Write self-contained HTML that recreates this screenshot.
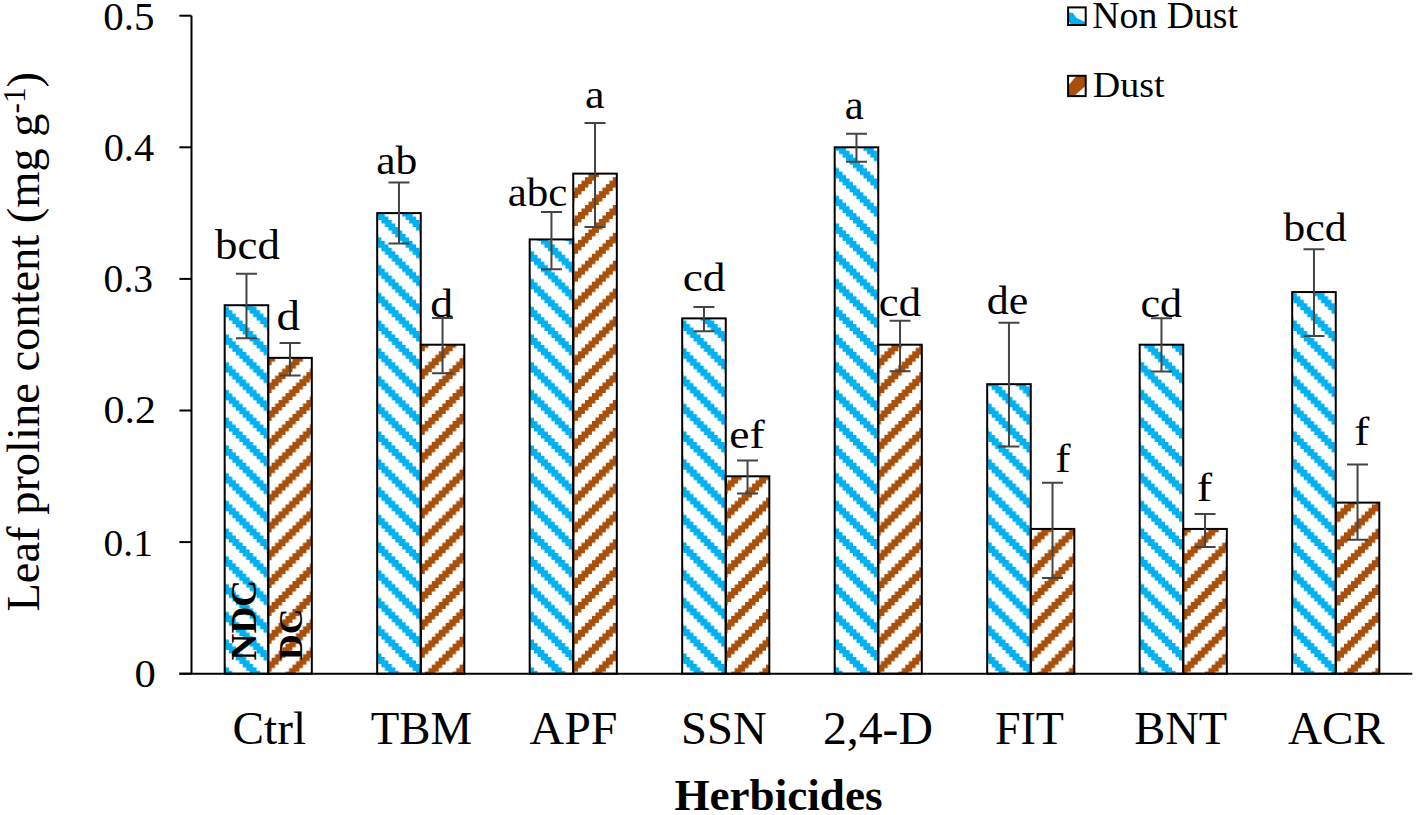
<!DOCTYPE html>
<html><head><meta charset="utf-8"><style>
html,body{margin:0;padding:0;background:#fff;}
svg{display:block;}
text{font-family:"Liberation Serif",serif;fill:#000;}
</style></head><body>
<svg width="1416" height="815" viewBox="0 0 1416 815">
<defs>
<pattern id="pb" patternUnits="userSpaceOnUse" x="0" y="5.077" width="27.740" height="27.740"><path d="M0.000,0.000h3.467v3.467h-3.467zM3.467,0.000h3.467v3.467h-3.467zM6.935,0.000h3.467v3.467h-3.467zM3.467,3.467h3.467v3.467h-3.467zM6.935,3.467h3.467v3.467h-3.467zM10.402,3.467h3.467v3.467h-3.467zM6.935,6.935h3.467v3.467h-3.467zM10.402,6.935h3.467v3.467h-3.467zM13.870,6.935h3.467v3.467h-3.467zM10.402,10.402h3.467v3.467h-3.467zM13.870,10.402h3.467v3.467h-3.467zM17.337,10.402h3.467v3.467h-3.467zM13.870,13.870h3.467v3.467h-3.467zM17.337,13.870h3.467v3.467h-3.467zM20.805,13.870h3.467v3.467h-3.467zM17.337,17.337h3.467v3.467h-3.467zM20.805,17.337h3.467v3.467h-3.467zM24.272,17.337h3.467v3.467h-3.467zM20.805,20.805h3.467v3.467h-3.467zM24.272,20.805h3.467v3.467h-3.467zM0.000,20.805h3.467v3.467h-3.467zM24.272,24.272h3.467v3.467h-3.467zM0.000,24.272h3.467v3.467h-3.467zM3.467,24.272h3.467v3.467h-3.467z" fill="#00B0F0"/></pattern>
<pattern id="pr" patternUnits="userSpaceOnUse" x="0" y="10.056" width="27.855" height="27.855"><path d="M0.000,0.000h3.482v3.482h-3.482zM3.482,0.000h3.482v3.482h-3.482zM6.964,0.000h3.482v3.482h-3.482zM24.373,3.482h3.482v3.482h-3.482zM0.000,3.482h3.482v3.482h-3.482zM3.482,3.482h3.482v3.482h-3.482zM20.891,6.964h3.482v3.482h-3.482zM24.373,6.964h3.482v3.482h-3.482zM0.000,6.964h3.482v3.482h-3.482zM17.409,10.446h3.482v3.482h-3.482zM20.891,10.446h3.482v3.482h-3.482zM24.373,10.446h3.482v3.482h-3.482zM13.928,13.928h3.482v3.482h-3.482zM17.409,13.928h3.482v3.482h-3.482zM20.891,13.928h3.482v3.482h-3.482zM10.446,17.409h3.482v3.482h-3.482zM13.928,17.409h3.482v3.482h-3.482zM17.409,17.409h3.482v3.482h-3.482zM6.964,20.891h3.482v3.482h-3.482zM10.446,20.891h3.482v3.482h-3.482zM13.928,20.891h3.482v3.482h-3.482zM3.482,24.373h3.482v3.482h-3.482zM6.964,24.373h3.482v3.482h-3.482zM10.446,24.373h3.482v3.482h-3.482z" fill="#A8500A"/></pattern>
<clipPath id="c1"><rect x="1068.1" y="7.4" width="17.6" height="17.6"/></clipPath>
<clipPath id="c2"><rect x="1068.1" y="75.8" width="17.6" height="20.3"/></clipPath>
</defs>
<rect width="1416" height="815" fill="#fff"/>

<rect x="224.68" y="305.22" width="43.57" height="368.48" fill="url(#pb)" stroke="#000" stroke-width="2"/>
<rect x="268.25" y="357.86" width="43.57" height="315.84" fill="url(#pr)" stroke="#000" stroke-width="2"/>
<rect x="377.18" y="213.10" width="43.57" height="460.60" fill="url(#pb)" stroke="#000" stroke-width="2"/>
<rect x="420.75" y="344.70" width="43.57" height="329.00" fill="url(#pr)" stroke="#000" stroke-width="2"/>
<rect x="529.68" y="239.42" width="43.57" height="434.28" fill="url(#pb)" stroke="#000" stroke-width="2"/>
<rect x="573.25" y="173.62" width="43.57" height="500.08" fill="url(#pr)" stroke="#000" stroke-width="2"/>
<rect x="682.18" y="318.38" width="43.57" height="355.32" fill="url(#pb)" stroke="#000" stroke-width="2"/>
<rect x="725.75" y="476.30" width="43.57" height="197.40" fill="url(#pr)" stroke="#000" stroke-width="2"/>
<rect x="834.68" y="147.30" width="43.57" height="526.40" fill="url(#pb)" stroke="#000" stroke-width="2"/>
<rect x="878.25" y="344.70" width="43.57" height="329.00" fill="url(#pr)" stroke="#000" stroke-width="2"/>
<rect x="987.18" y="384.18" width="43.57" height="289.52" fill="url(#pb)" stroke="#000" stroke-width="2"/>
<rect x="1030.75" y="528.94" width="43.57" height="144.76" fill="url(#pr)" stroke="#000" stroke-width="2"/>
<rect x="1139.68" y="344.70" width="43.57" height="329.00" fill="url(#pb)" stroke="#000" stroke-width="2"/>
<rect x="1183.25" y="528.94" width="43.57" height="144.76" fill="url(#pr)" stroke="#000" stroke-width="2"/>
<rect x="1292.18" y="292.06" width="43.57" height="381.64" fill="url(#pb)" stroke="#000" stroke-width="2"/>
<rect x="1335.75" y="502.62" width="43.57" height="171.08" fill="url(#pr)" stroke="#000" stroke-width="2"/>
<text transform="translate(256.04,660.44) rotate(-90) scale(1.0389,1)" font-size="35.76" font-weight="bold">NDC</text>
<text transform="translate(302.26,660.01) rotate(-90) scale(1.0405,1)" font-size="34.24" font-weight="bold">DC</text>
<path d="M246.47,273.80V338.30M235.97,273.80H256.97M235.97,338.30H256.97" stroke="#444" stroke-width="2" fill="none"/>
<path d="M290.04,343.10V375.50M279.54,343.10H300.54M279.54,375.50H300.54" stroke="#444" stroke-width="2" fill="none"/>
<path d="M398.97,182.60V243.50M388.47,182.60H409.47M388.47,243.50H409.47" stroke="#444" stroke-width="2" fill="none"/>
<path d="M442.54,318.00V373.20M432.04,318.00H453.04M432.04,373.20H453.04" stroke="#444" stroke-width="2" fill="none"/>
<path d="M551.46,211.90V269.20M540.96,211.90H561.96M540.96,269.20H561.96" stroke="#444" stroke-width="2" fill="none"/>
<path d="M595.03,123.10V227.10M584.53,123.10H605.53M584.53,227.10H605.53" stroke="#444" stroke-width="2" fill="none"/>
<path d="M703.96,307.00V331.20M693.46,307.00H714.46M693.46,331.20H714.46" stroke="#444" stroke-width="2" fill="none"/>
<path d="M747.53,460.40V493.50M737.03,460.40H758.03M737.03,493.50H758.03" stroke="#444" stroke-width="2" fill="none"/>
<path d="M856.46,133.80V161.80M845.96,133.80H866.96M845.96,161.80H866.96" stroke="#444" stroke-width="2" fill="none"/>
<path d="M900.03,320.80V371.30M889.53,320.80H910.53M889.53,371.30H910.53" stroke="#444" stroke-width="2" fill="none"/>
<path d="M1008.96,322.70V446.50M998.46,322.70H1019.46M998.46,446.50H1019.46" stroke="#444" stroke-width="2" fill="none"/>
<path d="M1052.53,482.80V578.00M1042.03,482.80H1063.03M1042.03,578.00H1063.03" stroke="#444" stroke-width="2" fill="none"/>
<path d="M1161.47,318.30V371.50M1150.97,318.30H1171.97M1150.97,371.50H1171.97" stroke="#444" stroke-width="2" fill="none"/>
<path d="M1205.04,513.90V547.00M1194.54,513.90H1215.54M1194.54,547.00H1215.54" stroke="#444" stroke-width="2" fill="none"/>
<path d="M1313.97,249.30V336.10M1303.47,249.30H1324.47M1303.47,336.10H1324.47" stroke="#444" stroke-width="2" fill="none"/>
<path d="M1357.54,464.60V539.70M1347.04,464.60H1368.04M1347.04,539.70H1368.04" stroke="#444" stroke-width="2" fill="none"/>
<path d="M191.5,15.7V673.7M179.4,673.7H1412.3" stroke="#000" stroke-width="2" fill="none"/>
<path d="M179.4,673.70H191.5" stroke="#000" stroke-width="2"/>
<path d="M179.4,542.10H191.5" stroke="#000" stroke-width="2"/>
<path d="M179.4,410.50H191.5" stroke="#000" stroke-width="2"/>
<path d="M179.4,278.90H191.5" stroke="#000" stroke-width="2"/>
<path d="M179.4,147.30H191.5" stroke="#000" stroke-width="2"/>
<path d="M179.4,15.70H191.5" stroke="#000" stroke-width="2"/>
<text transform="translate(103.26,29.90) scale(1.0235,1)" font-size="40.00">0.5</text>
<text transform="translate(103.69,160.90) scale(1.0047,1)" font-size="40.15">0.4</text>
<text transform="translate(103.62,291.80) scale(0.9930,1)" font-size="39.85">0.3</text>
<text transform="translate(103.53,423.09) scale(1.0379,1)" font-size="40.30">0.2</text>
<text transform="translate(103.62,556.02) scale(1.0130,1)" font-size="38.97">0.1</text>
<text transform="translate(134.50,687.01) scale(1.0816,1)" font-size="39.40">0</text>
<text transform="translate(215.10,258.79) scale(1.0895,1)" font-size="41.14">bcd</text>
<text transform="translate(276.42,330.09) scale(1.1397,1)" font-size="41.14">d</text>
<text transform="translate(376.26,174.20) scale(1.0775,1)" font-size="40.43">ab</text>
<text transform="translate(430.17,316.60) scale(1.1444,1)" font-size="40.00">d</text>
<text transform="translate(507.68,205.89) scale(1.0477,1)" font-size="41.00">abc</text>
<text transform="translate(584.94,107.89) scale(1.0746,1)" font-size="41.04">a</text>
<text transform="translate(682.68,290.50) scale(1.1376,1)" font-size="40.00">cd</text>
<text transform="translate(729.17,447.80) scale(1.1419,1)" font-size="40.00">ef</text>
<text transform="translate(844.79,118.88) scale(1.0175,1)" font-size="42.08">a</text>
<text transform="translate(878.81,316.00) scale(1.1180,1)" font-size="40.00">cd</text>
<text transform="translate(986.74,314.10) scale(1.1045,1)" font-size="39.86">de</text>
<text transform="translate(1055.22,472.40) scale(1.1500,1)" font-size="40.00">f</text>
<text transform="translate(1140.53,316.80) scale(1.1039,1)" font-size="40.00">cd</text>
<text transform="translate(1196.69,501.30) scale(1.1500,1)" font-size="40.14">f</text>
<text transform="translate(1283.30,240.60) scale(1.0997,1)" font-size="40.00">bcd</text>
<text transform="translate(1354.14,445.39) scale(1.1500,1)" font-size="39.43">f</text>
<text transform="translate(232.51,743.70) scale(1.0275,1)" font-size="46.00">Ctrl</text>
<text transform="translate(370.66,743.70) scale(1.0172,1)" font-size="46.00">TBM</text>
<text transform="translate(529.52,743.70) scale(1.0420,1)" font-size="46.00">APF</text>
<text transform="translate(681.03,743.70) scale(1.0145,1)" font-size="46.00">SSN</text>
<text transform="translate(822.99,743.70) scale(1.0370,1)" font-size="46.00">2,4-D</text>
<text transform="translate(994.92,743.70) scale(1.0015,1)" font-size="46.00">FIT</text>
<text transform="translate(1134.31,743.70) scale(1.0089,1)" font-size="46.00">BNT</text>
<text transform="translate(1288.03,743.70) scale(1.0223,1)" font-size="46.00">ACR</text>
<text transform="translate(674.40,809.86) scale(1.0262,1)" font-size="44.00" font-weight="bold">Herbicides</text>
<text transform="translate(1092.27,28.33) scale(1.0169,1)" font-size="37.12">Non Dust</text>
<text transform="translate(1092.86,96.73) scale(1.0364,1)" font-size="36.67">Dust</text>
<text transform="translate(38.86,611.59) rotate(-90) scale(1.0023,1)" font-size="46.38">Leaf proline content (mg g<tspan font-size="31.08" dy="-13.45">-1</tspan><tspan dy="13.45">)</tspan></text>
<g clip-path="url(#c1)"><rect x="1060" y="0" width="40" height="40" fill="#fff"/><path d="M1068,12.3 L1073,13 L1076.5,18 L1086,22.5 L1086,26 L1073,26 L1068,21.5Z" fill="#00B0F0"/></g>
<g clip-path="url(#c2)"><rect x="1060" y="70" width="40" height="40" fill="#fff"/><path d="M1068,86 L1075,77.5 L1077,75.8 L1086,75.8 L1086,85.6 L1074,96.2 L1068,96.2Z" fill="#A8500A"/></g>
<rect x="1068.1" y="7.4" width="17.6" height="17.6" fill="none" stroke="#000" stroke-width="2"/>
<rect x="1068.1" y="75.8" width="17.6" height="20.3" fill="none" stroke="#000" stroke-width="2"/>
</svg>
</body></html>
